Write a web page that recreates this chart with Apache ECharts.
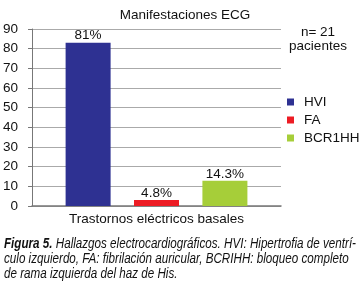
<!DOCTYPE html>
<html>
<head>
<meta charset="utf-8">
<script src="https://cdn.jsdelivr.net/npm/echarts@6/dist/echarts.min.js"></script>
<style>
  html, body { margin: 0; padding: 0; background: #fff; }
  #chart { width: 361px; height: 296px; }
</style>
</head>
<body>
<div id="chart"></div>
<script>
var categories = ['Trastornos eléctricos basales'];
var seriesNames = ['HVI', 'FA', 'BCR1HH'];
var seriesValues = [83, 3, 12.8];
var seriesLabels = ['81%', '4.8%', '14.3%'];
var seriesColors = ['#2e3192', '#ed1c24', '#a6ce39'];
var yTicks = [0, 90, 10];

var captionBold = 'Figura 5.';
var captionLines = [
    ' Hallazgos electrocardiográficos. HVI: Hipertrofia de ventrí-',
    'culo izquierdo, FA: fibrilación auricular, BCRIHH: bloqueo completo',
    'de rama izquierda del haz de His.'
];

var font = "'Liberation Sans', Arial, sans-serif";
var capSize = 14;

var chart = echarts.init(document.getElementById('chart'));

// el pie de figura es condensado: se mide la primera linea y se escala a lo ancho
var ctx = document.createElement('canvas').getContext('2d');
ctx.font = 'italic bold ' + capSize + 'px ' + font;
var wBold = ctx.measureText(captionBold).width;
ctx.font = 'italic ' + capSize + 'px ' + font;
var wRest = ctx.measureText(captionLines[0]).width;
var captionScale = 352 / (wBold + wRest);

var series = seriesNames.map(function (name, i) {
    return {
        name: name,
        type: 'bar',
        data: [seriesValues[i]],
        barWidth: 45,
        barGap: '52%',
        itemStyle: { color: seriesColors[i] },
        label: {
            show: true,
            position: 'top',
            distance: 0,
            formatter: seriesLabels[i],
            color: '#111',
            fontFamily: font,
            fontSize: 13.5
        }
    };
});

var option = {
    animation: false,
    title: {
        text: 'Manifestaciones ECG',
        left: 180,
        textAlign: 'center',
        top: 3,
        textStyle: { fontFamily: font, fontSize: 13.5, fontWeight: 'normal', color: '#111' }
    },
    grid: { left: 30, right: 80, top: 29, bottom: 90 },
    legend: {
        orient: 'vertical',
        left: 282,
        top: 90,
        itemWidth: 7,
        itemHeight: 7,
        itemGap: 4,
        icon: 'rect',
        data: seriesNames,
        textStyle: { fontFamily: font, fontSize: 13.5, lineHeight: 14, color: '#111', padding: [0, 0, 0, 5] }
    },
    xAxis: {
        type: 'category',
        data: categories,
        axisLine: { lineStyle: { color: '#777', width: 1.5 } },
        axisTick: { show: false },
        axisLabel: { margin: 6, fontFamily: font, fontSize: 13.5, color: '#111' }
    },
    yAxis: {
        type: 'value',
        min: yTicks[0],
        max: yTicks[1],
        interval: yTicks[2],
        axisLine: { show: true, lineStyle: { color: '#777' } },
        axisTick: { show: true, length: 4, lineStyle: { color: '#777' } },
        splitLine: { lineStyle: { color: '#aaa', width: 1.2 } },
        axisLabel: { margin: 14, fontFamily: font, fontSize: 13.5, color: '#111' }
    },
    graphic: [
        {
            type: 'text',
            x: 318,
            y: 25,
            style: {
                text: 'n= 21\npacientes',
                textAlign: 'center',
                font: '13.5px ' + font,
                fill: '#111',
                lineHeight: 14
            }
        },
        {
            type: 'text',
            x: 4,
            y: 237,
            scaleX: captionScale,
            style: {
                text: '{b|' + captionBold + '}{i|' + captionLines[0] + '}\n' +
                      '{i|' + captionLines[1] + '}\n' +
                      '{i|' + captionLines[2] + '}',
                fill: '#111',
                rich: {
                    b: { fontFamily: font, fontStyle: 'italic', fontWeight: 'bold', fontSize: capSize, lineHeight: 15, fill: '#111' },
                    i: { fontFamily: font, fontStyle: 'italic', fontSize: capSize, lineHeight: 15, fill: '#111' }
                }
            }
        }
    ],
    series: series
};

chart.setOption(option);
</script>
</body>
</html>
